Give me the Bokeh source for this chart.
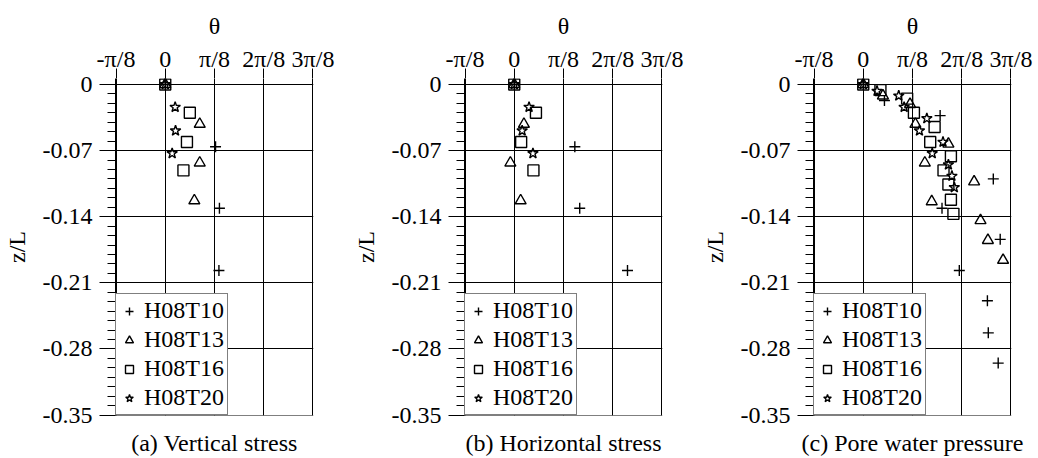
import numpy as np
from bokeh.plotting import figure
from bokeh.layouts import row
from bokeh.models import Range1d, FixedTicker, Legend, LegendItem, LinearAxis
from bokeh.embed import file_html
from bokeh.resources import INLINE

PI8 = np.pi / 8

# axis ticks and labels
theta_ticks = [-PI8, 0.0, PI8, 2 * PI8, 3 * PI8]
theta_labels = ["-π/8", "0", "π/8", "2π/8", "3π/8"]
depth_ticks = [0.0, -0.07, -0.14, -0.21, -0.28, -0.35]
depth_labels = ["0", "-0.07", "-0.14", "-0.21", "-0.28", "-0.35"]

series_names = ["H08T10", "H08T13", "H08T16", "H08T20"]
series_markers = ["cross", "triangle", "square", "star"]
captions = ["(a) Vertical stress", "(b) Horizontal stress", "(c) Pore water pressure"]

# depths z/L of the stress gauges (panels a and b)
z_t10 = [0.0, -0.066, -0.131, -0.197]
z_t13 = [0.0, -0.042, -0.083, -0.123]
z_t16 = [0.0, -0.030, -0.061, -0.091]
z_t20 = [0.0, -0.024, -0.049, -0.073]

# (a) vertical stress, phase angle theta [rad]
vs_t10 = [0.0, 0.401, 0.432, 0.428]
vs_t13 = [0.0, 0.275, 0.275, 0.232]
vs_t16 = [0.0, 0.196, 0.173, 0.145]
vs_t20 = [0.0, 0.079, 0.082, 0.055]

# (b) horizontal stress, phase angle theta [rad]
hs_t10 = [0.0, 0.483, 0.522, 0.903]
hs_t13 = [0.0, 0.077, -0.031, 0.051]
hs_t16 = [0.0, 0.173, 0.055, 0.153]
hs_t20 = [0.0, 0.118, 0.063, 0.149]

# (c) pore water pressure: depths z/L and phase angle theta [rad]
pz_t10 = [0.0, -0.017, -0.033, -0.100, -0.131, -0.164, -0.197, -0.229, -0.263, -0.295]
pw_t10 = [0.0, 0.169, 0.613, 1.037, 0.628, 1.092, 0.766, 0.990, 0.997, 1.076]
pz_t13 = [0.0, -0.012, -0.021, -0.042, -0.063, -0.083, -0.103, -0.124, -0.144, -0.165, -0.186]
pw_t13 = [0.0, 0.157, 0.373, 0.416, 0.679, 0.491, 0.884, 0.546, 0.935, 0.994, 1.115]
pz_t16 = [0.0, -0.006, -0.015, -0.030, -0.045, -0.061, -0.076, -0.091, -0.106, -0.122, -0.137]
pw_t16 = [0.0, 0.137, 0.350, 0.404, 0.569, 0.534, 0.699, 0.640, 0.679, 0.699, 0.719]
pz_t20 = [0.0, -0.007, -0.012, -0.024, -0.036, -0.049, -0.061, -0.073, -0.085, -0.097, -0.109]
pw_t20 = [0.0, 0.110, 0.283, 0.326, 0.507, 0.448, 0.636, 0.550, 0.679, 0.707, 0.726]

FONT = "Liberation Serif"
FS = "24px"

minor_depth = [round(v, 2) for v in np.arange(-0.35, 0.0001, 0.01)
               if all(abs(v - t) > 1e-9 for t in depth_ticks)]


def style_text(ax):
    ax.major_label_text_font = FONT
    ax.major_label_text_font_size = FS
    ax.major_label_text_color = "black"
    ax.axis_label_text_font = FONT
    ax.axis_label_text_font_size = FS
    ax.axis_label_text_font_style = "normal"
    ax.axis_label_text_color = "black"


def make_panel(caption, xs, zs, width, right):
    p = figure(width=width, height=458, output_backend="svg", toolbar_location=None,
               x_range=Range1d(-PI8 - 0.004, 3 * PI8 + 0.004),
               y_range=Range1d(-0.3505, 0.0063),
               x_axis_location="above", y_axis_location="left",
               min_border_left=113, min_border_right=right,
               min_border_top=78, min_border_bottom=43)
    p.outline_line_color = None
    p.background_fill_color = "white"
    p.border_fill_color = "white"

    xa = p.xaxis[0]
    xa.ticker = FixedTicker(ticks=theta_ticks)
    xa.major_label_overrides = dict(zip(theta_ticks, theta_labels))
    xa.axis_line_color = None
    xa.major_tick_out = 10
    xa.major_tick_in = 0
    xa.minor_tick_out = 0
    xa.minor_tick_in = 0
    xa.major_tick_line_color = "black"
    xa.major_label_standoff = -3
    xa.axis_label = "θ"
    xa.axis_label_standoff = 4
    style_text(xa)

    ya = p.yaxis[0]
    ya.ticker = FixedTicker(ticks=depth_ticks, minor_ticks=minor_depth)
    ya.major_label_overrides = dict(zip(depth_ticks, depth_labels))
    ya.axis_line_color = "black"
    ya.major_tick_out = 16
    ya.major_tick_in = 0
    ya.minor_tick_out = 8
    ya.minor_tick_in = 0
    ya.major_tick_line_color = "black"
    ya.minor_tick_line_color = "black"
    ya.major_label_standoff = 7
    ya.axis_label = "z/L"
    ya.axis_label_standoff = 10
    style_text(ya)

    # caption carried by a bare axis under the frame
    cap = LinearAxis(ticker=FixedTicker(ticks=[]), axis_line_color=None,
                     major_tick_out=0, major_tick_in=0, minor_tick_out=0,
                     minor_tick_in=0, major_label_standoff=0,
                     axis_label=caption, axis_label_standoff=14,
                     axis_label_align="center")
    style_text(cap)
    p.add_layout(cap, "below")

    p.grid.grid_line_color = "black"
    p.grid.grid_line_width = 1
    p.grid.grid_line_alpha = 1

    items = []
    for name, mk, x, z in zip(series_names, series_markers, xs, zs):
        r = p.scatter(x, z, marker=mk, size=11, line_color="black",
                      fill_color=None, line_width=1.4)
        items.append(LegendItem(label=name, renderers=[r]))

    legend = Legend(items=items, location="bottom_left", margin=0, padding=3,
                    spacing=2, glyph_width=20, glyph_height=24, label_height=24,
                    label_standoff=5, label_text_font=FONT, label_text_font_size=FS,
                    label_text_color="black", border_line_color="black",
                    border_line_width=1, background_fill_color="white",
                    background_fill_alpha=1)
    p.add_layout(legend)
    return p


pa = make_panel(captions[0], [vs_t10, vs_t13, vs_t16, vs_t20],
                [z_t10, z_t13, z_t16, z_t20], 349, 36)
pb = make_panel(captions[1], [hs_t10, hs_t13, hs_t16, hs_t20],
                [z_t10, z_t13, z_t16, z_t20], 349, 36)
pc = make_panel(captions[2], [pw_t10, pw_t13, pw_t16, pw_t20],
                [pz_t10, pz_t13, pz_t16, pz_t20], 340, 27)

layout = row(pa, pb, pc, spacing=0)
open("out.html", "w").write(file_html(layout, INLINE))
